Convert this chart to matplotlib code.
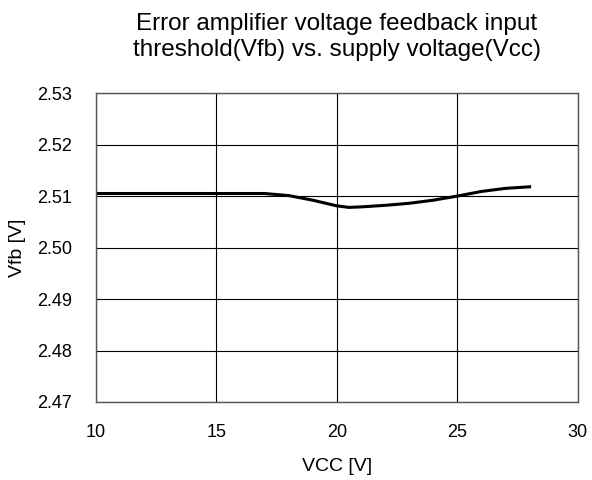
import matplotlib
matplotlib.use("Agg")
import matplotlib.pyplot as plt

# Vfb vs Vcc
vcc = [10, 11, 12, 13, 14, 15, 16, 17, 18, 19, 20, 20.5, 21, 22, 23, 24, 25, 26, 27, 28]
vfb = [2.5105, 2.5105, 2.5105, 2.5105, 2.5105, 2.5105, 2.5105, 2.5105, 2.5101, 2.5092,
       2.5081, 2.5078, 2.5079, 2.5082, 2.5086, 2.5092, 2.5100, 2.5109, 2.5115, 2.5118]

x_ticks = [10, 15, 20, 25, 30]
y_ticks = [2.47, 2.48, 2.49, 2.50, 2.51, 2.52, 2.53]

plt.rcParams['font.family'] = ['Liberation Sans', 'DejaVu Sans']

fig = plt.figure(figsize=(5.92, 4.8), dpi=100)
ax = fig.add_axes([0.162, 0.1625, 0.814, 0.6435])

ax.plot(vcc, vfb, color='black', linewidth=2.2)

ax.set_xlim(10, 30)
ax.set_ylim(2.47, 2.53)
ax.set_xticks(x_ticks)
ax.set_yticks(y_ticks)
ax.set_yticklabels([f"{v:.2f}" for v in y_ticks])
ax.grid(True, color='black', linewidth=0.8)
ax.tick_params(axis='both', length=0, labelsize=13)
ax.tick_params(axis='x', pad=16)
ax.tick_params(axis='y', pad=17)
for s in ax.spines.values():
    s.set_color('#555555')
    s.set_linewidth(1.0)

ax.set_xlabel("VCC [V]", fontsize=14, labelpad=12)
ax.set_ylabel("Vfb [V]", fontsize=14, labelpad=8)
ax.set_title("Error amplifier voltage feedback input\nthreshold(Vfb) vs. supply voltage(Vcc)",
             fontsize=17.5, pad=27, linespacing=1.2)

fig.savefig("out.png", dpi=100)
